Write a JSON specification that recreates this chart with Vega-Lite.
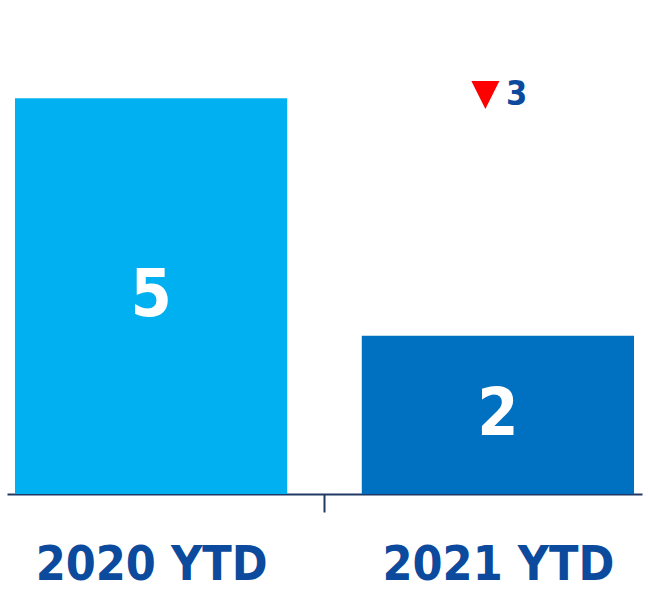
{
  "$schema": "https://vega.github.io/schema/vega-lite/v6.json",
  "autosize": {"type": "none"},
  "width": 635,
  "height": 475,
  "padding": {"left": 7, "top": 19, "right": 6, "bottom": 100},
  "background": "white",
  "config": {"view": {"stroke": null}},
  "datasets": {
    "bars": [
      {"period": "2020 YTD", "value": 5},
      {"period": "2021 YTD", "value": 2}
    ],
    "change": [
      {"period": "2021 YTD", "change": 3, "level": 5.04}
    ]
  },
  "layer": [
    {
      "data": {"name": "bars"},
      "mark": {"type": "bar"},
      "encoding": {
        "x": {
          "field": "period", "type": "nominal", "sort": null,
          "scale": {"paddingInner": 0.215, "paddingOuter": 0.023},
          "axis": {
            "title": null, "labelAngle": 0, "labelLimit": 0,
            "domainColor": "#1F3864", "domainWidth": 2,
            "tickColor": "#1F3864", "tickWidth": 2, "tickSize": 18,
            "tickOffset": 173.4, "labelOffset": -173.4,
            "labelFont": "DejaVu Sans Condensed",
            "labelFontWeight": "bold", "labelFontSize": 48,
            "labelColor": "#0B4A9C", "labelPadding": 29, "labelBaseline": "top"
          }
        },
        "y": {"field": "value", "type": "quantitative", "scale": {"domain": [0, 6]}, "axis": null},
        "color": {
          "field": "period", "type": "nominal", "legend": null,
          "scale": {"domain": ["2020 YTD", "2021 YTD"], "range": ["#00B0F0", "#0070C0"]}
        }
      }
    },
    {
      "data": {"name": "bars"},
      "transform": [{"calculate": "datum.value / 2", "as": "mid"}],
      "mark": {"type": "text", "font": "DejaVu Sans Condensed", "fontWeight": "bold", "fontSize": 66, "color": "white", "baseline": "middle", "align": "center"},
      "encoding": {
        "x": {"field": "period", "type": "nominal", "sort": null},
        "y": {"field": "mid", "type": "quantitative"},
        "text": {"field": "value", "type": "quantitative"}
      }
    },
    {
      "data": {"name": "change"},
      "mark": {"type": "point", "shape": "M-1,-1L1,-1L0,1Z", "filled": true, "color": "#FF0000", "size": 784, "opacity": 1, "xOffset": -12.5},
      "encoding": {
        "x": {"field": "period", "type": "nominal", "sort": null},
        "y": {"field": "level", "type": "quantitative"}
      }
    },
    {
      "data": {"name": "change"},
      "mark": {"type": "text", "font": "DejaVu Sans Condensed", "fontWeight": "bold", "fontSize": 34, "color": "#0B4A9C", "baseline": "middle", "align": "left", "xOffset": 8},
      "encoding": {
        "x": {"field": "period", "type": "nominal", "sort": null},
        "y": {"field": "level", "type": "quantitative"},
        "text": {"field": "change", "type": "quantitative"}
      }
    }
  ]
}
